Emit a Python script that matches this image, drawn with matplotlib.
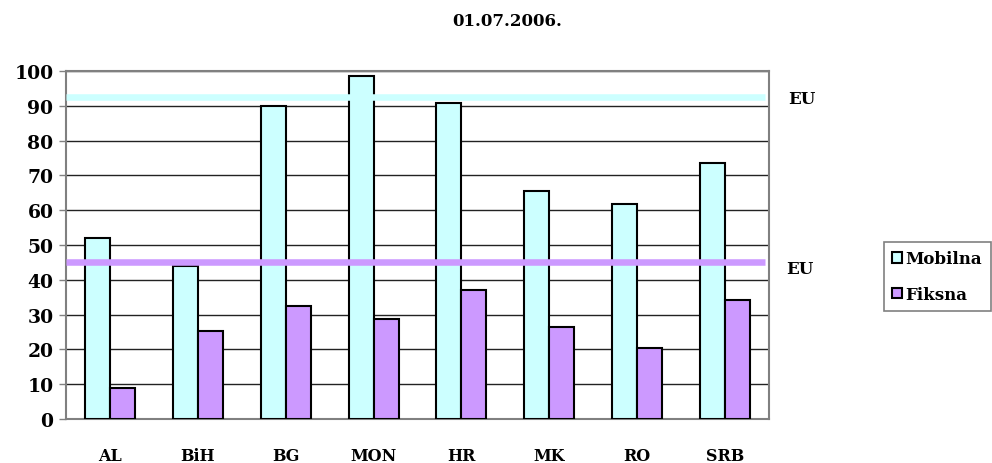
import matplotlib
matplotlib.use("Agg")
import matplotlib.pyplot as plt
import numpy as np
from matplotlib.transforms import blended_transform_factory

categories = ["AL", "BiH", "BG", "MON", "HR", "MK", "RO", "SRB"]
mobilna = [52.0, 44.0, 90.0, 98.7, 90.8, 65.5, 61.9, 73.5]
fiksna = [8.8, 25.3, 32.5, 28.6, 37.1, 26.5, 20.4, 34.3]
eu_mobilna = 92.4
eu_fiksna = 45.2
title = "01.07.2006."
yticks = [0, 10, 20, 30, 40, 50, 60, 70, 80, 90, 100]

FONT = "DejaVu Serif"
plt.rcParams["font.family"] = [FONT]
plt.rcParams["font.weight"] = "bold"

fig = plt.figure(figsize=(9.92, 4.64), dpi=100)
ax = fig.add_axes([66/992, 44/464, (769-66)/992, (420-72)/464])

x = np.arange(len(categories))
w = 0.284
c_mob = "#CCFFFF"
c_fik = "#CC99FF"
ax.bar(x - w/2, mobilna, w, color=c_mob, edgecolor="black", linewidth=1.5, label="Mobilna", zorder=3)
ax.bar(x + w/2, fiksna, w, color=c_fik, edgecolor="black", linewidth=1.5, label="Fiksna", zorder=3)

ax.plot([-0.5, 7.45], [eu_mobilna, eu_mobilna], color=c_mob, linewidth=4.7, zorder=4, solid_capstyle="butt")
ax.plot([-0.5, 7.45], [eu_fiksna, eu_fiksna], color=c_fik, linewidth=4.7, zorder=4, solid_capstyle="butt")

ax.set_xlim(-0.5, 7.5)
ax.set_ylim(0, 100)
ax.set_yticks(yticks)
ax.set_yticklabels([str(v) for v in yticks], fontsize=13.5, fontweight="bold")
ax.set_xticks(x)
ax.set_xticklabels(categories, fontsize=11.5, fontweight="bold")
ax.tick_params(axis="x", length=0, pad=20)
ax.tick_params(axis="y", length=5, width=1, color="#808080", pad=4)
ax.yaxis.grid(True, color="#222222", linewidth=1, zorder=0)
ax.set_axisbelow(True)
for s in ax.spines.values():
    s.set_color("#808080")
    s.set_linewidth(1.5)

tr = blended_transform_factory(ax.transAxes, ax.transData)
ax.text(1.027, 92.0, "EU", transform=tr, fontsize=12, fontweight="bold", va="center", ha="left")
ax.text(1.025, 43.2, "EU", transform=tr, fontsize=12, fontweight="bold", va="center", ha="left")

fig.text(507/992, 1 - 22/464, title, fontsize=12, fontweight="bold", ha="center", va="center")

leg = fig.legend(loc="upper left", bbox_to_anchor=(884/992, 1 - 243/464), fontsize=12,
                 handlelength=0.6, handleheight=0.6, handletextpad=0.2, borderpad=0.5,
                 labelspacing=1.1, borderaxespad=0, fancybox=False, edgecolor="#808080",
                 framealpha=1)
leg.get_frame().set_linewidth(1.2)

fig.savefig("out.png", dpi=100)
